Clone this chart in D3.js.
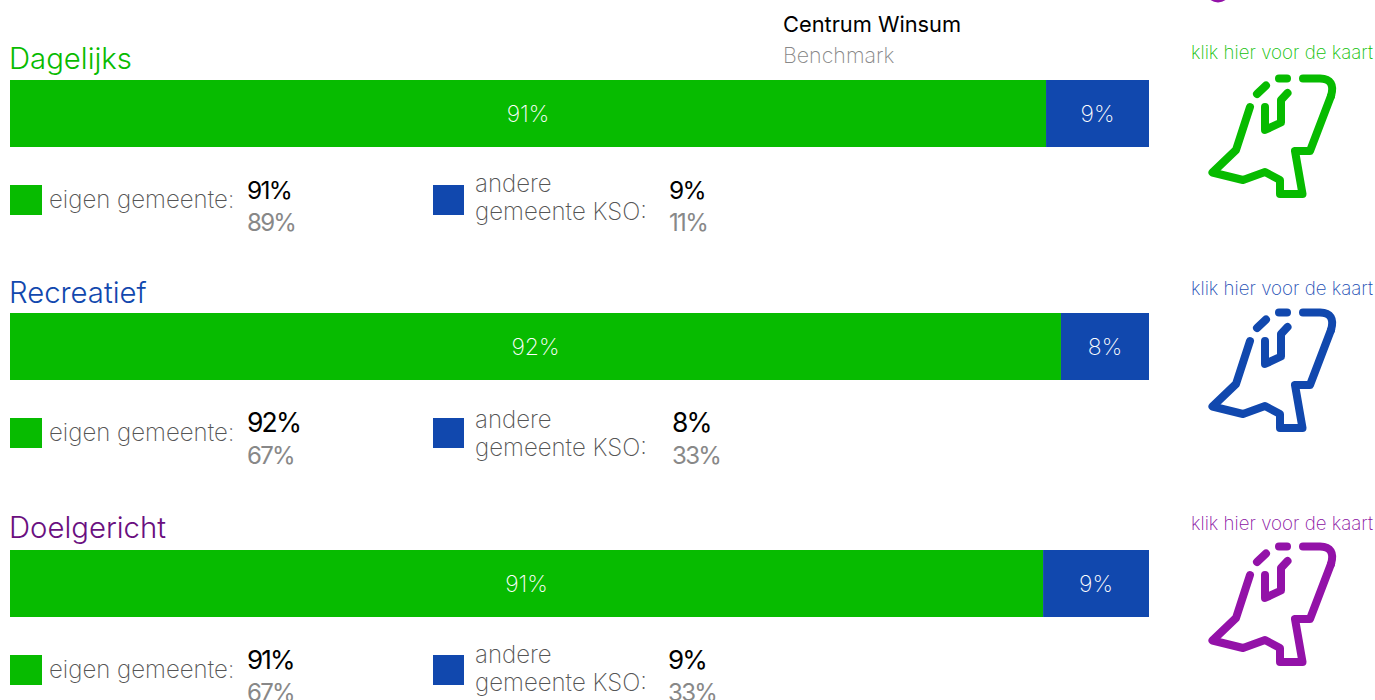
<!DOCTYPE html>
<html>
<head>
<meta charset="utf-8">
<script src="https://cdn.jsdelivr.net/npm/d3@7"></script>
<style>
  html, body { margin: 0; padding: 0; background: #fff; overflow: hidden; }
  text { font-family: Inter, "Noto Sans", sans-serif; font-weight: 300; }
  .thin { font-weight: 200; }
  .num { font-weight: 400; letter-spacing: -0.07em; }
</style>
</head>
<body>
<div class="chart"></div>
<script>
const categories = ['Dagelijks', 'Recreatief', 'Doelgericht'];
const eigen = [90.96, 92.27, 90.7];
const andere = [9.04, 7.73, 9.3];
const eigenLabels = ['91%', '92%', '91%'];
const andereLabels = ['9%', '8%', '9%'];
const eigenBench = ['89%', '67%', '67%'];
const andereBench = ['11%', '33%', '33%'];

const GREEN = '#07bb00';
const BLUE = '#1148ae';
const titleColors = ['#07bb00', '#1148ae', '#6a0f80'];
const iconColors = ['#07bb00', '#1148ae', '#9312a8'];
const linkColors = ['#0fbf08', '#1a4db4', '#8a10a2'];

// per row layout, the rows are not evenly spaced in the original
const layout = [
  { barY: 80, titleY: 68.5, legY: 185, andereDy: 7, linkY: 59, iconDy: 0, eigenSize: 24.5, benchSize: 24, andereX: 669 },
  { barY: 313, titleY: 302.5, legY: 418, andereDy: 10, linkY: 295, iconDy: 234, eigenSize: 26.5, benchSize: 24, andereX: 672 },
  { barY: 550, titleY: 537.5, legY: 655, andereDy: 8, linkY: 530, iconDy: 468, eigenSize: 26, benchSize: 24, andereX: 668 },
];

const width = 1375;
const height = 700;

const svg = d3.select('.chart')
  .append('svg')
  .attr('width', width)
  .attr('height', height)
  .style('display', 'block');

const xScale = d3.scaleLinear().domain([0, 100]).range([10, 1149]);
const barHeight = 67;

// header top right
svg.append('text').attr('x', 783).attr('y', 32).attr('font-size', 21.8)
  .style('font-weight', 400).attr('fill', '#000').text('Centrum Winsum');
svg.append('text').attr('x', 783).attr('y', 63).attr('font-size', 21.4)
  .attr('class', 'thin').attr('fill', '#888').text('Benchmark');

// bottom of a cut off icon at the very top
svg.append('circle').attr('cx', 1218).attr('cy', -10).attr('r', 12.5)
  .attr('fill', '#9312a8');

const iconOutline = [[100, 107], [86, 150], [62.5, 172.5], [93, 180], [115, 172], [130, 180],
  [130, 194], [152.5, 194], [145, 151], [160, 151], [181, 96]];
const iconInner = [[115, 107], [115, 130], [131, 122.5], [131, 100], [137.5, 93]];
const iconDashA = [[107, 94], [116, 85.5]];
const iconDashB = [[129, 78.5], [137, 78.5]];
const iconTop = 'M181,96 Q186,79 170,78.5 L153,78.5';

const line = d3.line();

const rows = svg.selectAll('g.row')
  .data(categories)
  .enter()
  .append('g')
  .attr('class', 'row');

rows.each(function (name, i) {
  const g = d3.select(this);
  const l = layout[i];

  g.append('text').attr('x', 9).attr('y', l.titleY).attr('font-size', 29.3)
    .attr('fill', titleColors[i]).text(name);

  // stacked bar
  g.append('rect').attr('x', xScale(0)).attr('y', l.barY)
    .attr('width', xScale(eigen[i]) - xScale(0)).attr('height', barHeight).attr('fill', GREEN);
  g.append('rect').attr('x', xScale(eigen[i])).attr('y', l.barY)
    .attr('width', xScale(eigen[i] + andere[i]) - xScale(eigen[i])).attr('height', barHeight).attr('fill', BLUE);

  g.append('text').attr('x', (xScale(0) + xScale(eigen[i])) / 2).attr('y', l.barY + 42)
    .attr('class', 'thin').attr('text-anchor', 'middle').attr('font-size', 23).attr('fill', '#fff').text(eigenLabels[i]);
  g.append('text').attr('x', (xScale(eigen[i]) + xScale(100)) / 2).attr('y', l.barY + 42)
    .attr('class', 'thin').attr('text-anchor', 'middle').attr('font-size', 23).attr('fill', '#fff').text(andereLabels[i]);

  // legend left
  g.append('rect').attr('x', 10).attr('y', l.legY).attr('width', 32).attr('height', 30).attr('fill', GREEN);
  g.append('text').attr('x', 49).attr('y', l.legY + 23).attr('font-size', 24)
    .attr('class', 'thin').attr('fill', '#555').text('eigen gemeente:');
  g.append('text').attr('x', 247).attr('y', l.legY + 13.5).attr('font-size', l.eigenSize)
    .attr('class', 'num').attr('fill', '#000').text(eigenLabels[i]);
  g.append('text').attr('x', 247).attr('y', l.legY + 46).attr('font-size', l.benchSize)
    .attr('class', 'num').attr('fill', '#888').text(eigenBench[i]);

  // legend right
  g.append('rect').attr('x', 433).attr('y', l.legY).attr('width', 31).attr('height', 30).attr('fill', BLUE);
  g.append('text').attr('x', 475).attr('y', l.legY + l.andereDy).attr('font-size', 24)
    .attr('class', 'thin').attr('fill', '#555').text('andere');
  g.append('text').attr('x', 475).attr('y', l.legY + l.andereDy + 28).attr('font-size', 24)
    .attr('class', 'thin').attr('fill', '#555').text('gemeente KSO:');
  g.append('text').attr('x', l.andereX).attr('y', l.legY + 13.5).attr('font-size', l.eigenSize)
    .attr('class', 'num').attr('fill', '#000').text(andereLabels[i]);
  g.append('text').attr('x', l.andereX).attr('y', l.legY + 46).attr('font-size', l.benchSize)
    .attr('class', 'num').attr('fill', '#888').text(andereBench[i]);

  // map link
  g.append('text').attr('x', 1282).attr('y', l.linkY).attr('text-anchor', 'middle')
    .attr('class', 'thin').attr('font-size', 18.7).attr('fill', linkColors[i]).text('klik hier voor de kaart');

  const icon = g.append('g')
    .attr('transform', `translate(1150, ${l.iconDy})`)
    .attr('fill', 'none')
    .attr('stroke', iconColors[i])
    .attr('stroke-width', 8)
    .attr('stroke-linecap', 'round')
    .attr('stroke-linejoin', 'round');
  [iconOutline, iconInner, iconDashA, iconDashB].forEach(p => {
    icon.append('path').attr('d', line(p));
  });
  icon.append('path').attr('d', iconTop);
});
</script>
</body>
</html>
